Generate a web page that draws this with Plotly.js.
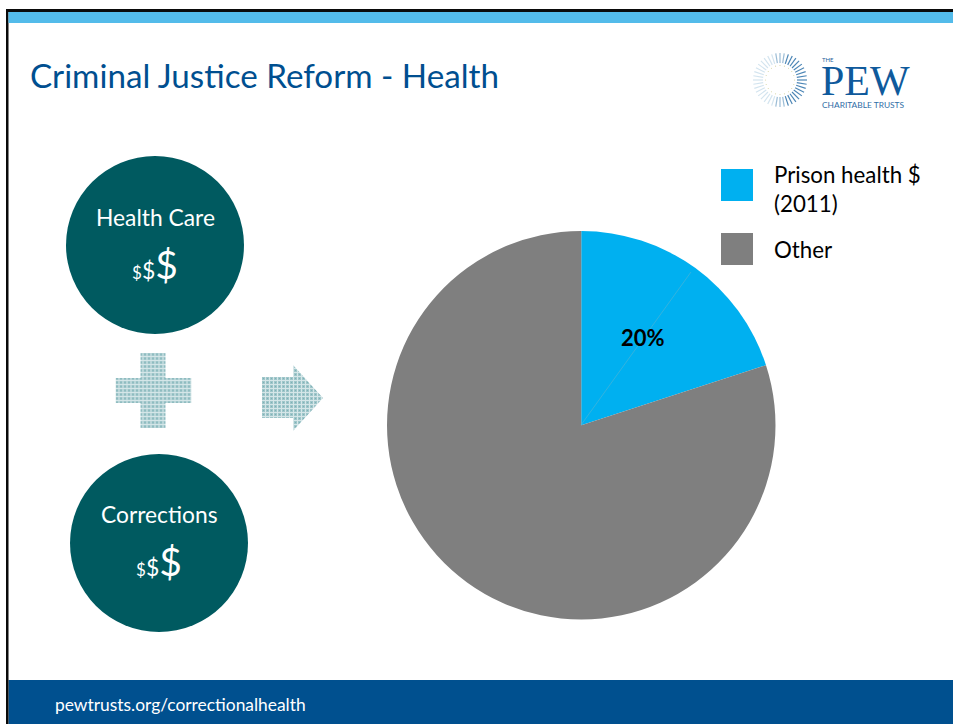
<!DOCTYPE html>
<html><head><meta charset="utf-8"><script src="https://cdn.plot.ly/plotly-3.0.1.min.js"></script>
<style>html,body{margin:0;padding:0;background:#fff}#c{width:953px;height:724px}</style></head>
<body><div id="c"></div>
<script>
var categories = ['Prison health $ (2011)', 'Other'];
var values = [20, 80];
var sliceColors = ['#00B0F0', '#7F7F7F'];
var W = 953, H = 724;
var F = 'Lato, "Open Sans", sans-serif';
function rect(x0,y0,x1,y1,c){return {type:'rect',xref:'paper',yref:'paper',x0:x0/W,x1:x1/W,y0:1-y0/H,y1:1-y1/H,fillcolor:c,line:{width:0},layer:'below'};}
function circ(cx,cy,r,c){return {type:'circle',xref:'paper',yref:'paper',x0:(cx-r)/W,x1:(cx+r)/W,y0:1-(cy-r)/H,y1:1-(cy+r)/H,fillcolor:c,line:{width:0},layer:'below'};}
function txt(x,y,t,size,color,anchor,extra){return Object.assign({xref:'paper',yref:'paper',x:x/W,y:1-y/H,text:t,showarrow:false,xanchor:anchor||'left',yanchor:'middle',borderpad:0,borderwidth:0,font:{family:F,size:size,color:color||'#000'}},extra||{});}
function img(x,y,w,h,svg){return {source:'data:image/svg+xml;utf8,'+encodeURIComponent(svg),xref:'paper',yref:'paper',x:x/W,y:1-y/H,sizex:w/W,sizey:h/H,xanchor:'left',yanchor:'top',sizing:'stretch',layer:'below'};}
function patterned(w,h,d){return '<svg xmlns="http://www.w3.org/2000/svg" width="'+w+'" height="'+h+'" viewBox="0 0 '+w+' '+h+'"><defs><pattern id="p" width="4" height="4" patternUnits="userSpaceOnUse"><rect width="4" height="4" fill="#9fc6ca"/><rect x="3" width="1" height="4" fill="#d5e6e8"/><rect y="3" width="4" height="1" fill="#d5e6e8"/><rect x="1" y="1" width="1" height="1" fill="#7fb1b6"/></pattern></defs><path d="'+d+'" fill="url(#p)"/></svg>';}
var dollars = '<span style="font-size:17px">$</span><span style="font-size:23px">$</span><span style="font-size:39px">$</span>';
var shapes = [
  rect(8.5,680,953,724,'#00508F'),
  rect(6,9,953,12,'#0a0a0a'), rect(6,9,8.5,724,'#0a0a0a'),
  rect(8.5,12,953,23,'#53BBEA'),
  circ(155,245,89,'#005A60'), circ(159,543,89,'#005A60'),
  rect(721,169,753,201,sliceColors[0]), rect(721,233,753,265,sliceColors[1]),
  {type:'line',xref:'paper',yref:'paper',x0:581/W,y0:1-425/H,x1:691/W,y1:1-272/H,line:{color:'#55b4d2',width:0.6},layer:'above'}
];
// logo sunburst
for (var i=0;i<40;i++){var a=i*Math.PI/20,cs=Math.cos(a),c=cs>0.3?'#4c86b6':(cs>-0.3?'#9cbdd6':'#d3e4ef');
  shapes.push({type:'line',xref:'paper',yref:'paper',x0:(780+17*cs)/W,y0:1-(80+17*Math.sin(a))/H,x1:(780+27*cs)/W,y1:1-(80+27*Math.sin(a))/H,line:{color:c,width:1.2},layer:'below'});
  if(i%2==0) shapes.push(circ(780+14.5*cs,80+14.5*Math.sin(a),0.6,'#d8d8a8'));}
var annotations = [
  txt(30,75,'Criminal Justice Reform - Health',33.2,'#004F90'),
  txt(155,217,'Health Care',22.8,'#fff','center'),
  txt(155,264,dollars,39,'#fff','center'),
  txt(159,514,'Corrections',22.8,'#fff','center'),
  txt(159,561,dollars,39,'#fff','center'),
  txt(774,189,categories[0].replace(' (','<br>('),22.3,'#000','left',{align:'left'}),
  txt(774,249,categories[1],22.3,'#000'),
  txt(55,704,'pewtrusts.org/correctionalhealth',17.4,'#fff'),
  txt(643,337,'<b>'+Math.round(100*values[0]/(values[0]+values[1]))+'%</b>',22,'#000','center'),
  txt(822,59,'THE',6,'#1f5f9c'),
  txt(821,81,'PEW',42,'#0F5A9C','left',{font:{family:'"Liberation Serif",serif',size:42,color:'#0F5A9C'}}),
  txt(822,104.5,'CHARITABLE TRUSTS',8.4,'#2f6ea6')
];
var images = [
  img(115.5,353,76,75,patterned(76,75,'M25 0H50V25H76V50H50V75H25V50H0V25H25Z')),
  img(262,365,61,66,patterned(61,66,'M0 12H31V0L61 33L31 66V53H0Z'))
];
Plotly.newPlot('c',[{
  type:'pie',labels:categories,values:values,sort:false,direction:'clockwise',rotation:0,
  marker:{colors:sliceColors,line:{width:0}},textinfo:'none',
  domain:{x:[387/W,775.5/W],y:[1-619.5/H,1-231/H]},showlegend:false,hoverinfo:'label+percent'
}],{
  width:W,height:H,margin:{l:0,r:0,t:0,b:0},paper_bgcolor:'#fff',showlegend:false,
  shapes:shapes,annotations:annotations,images:images
},{displayModeBar:false,staticPlot:true});
</script></body></html>
